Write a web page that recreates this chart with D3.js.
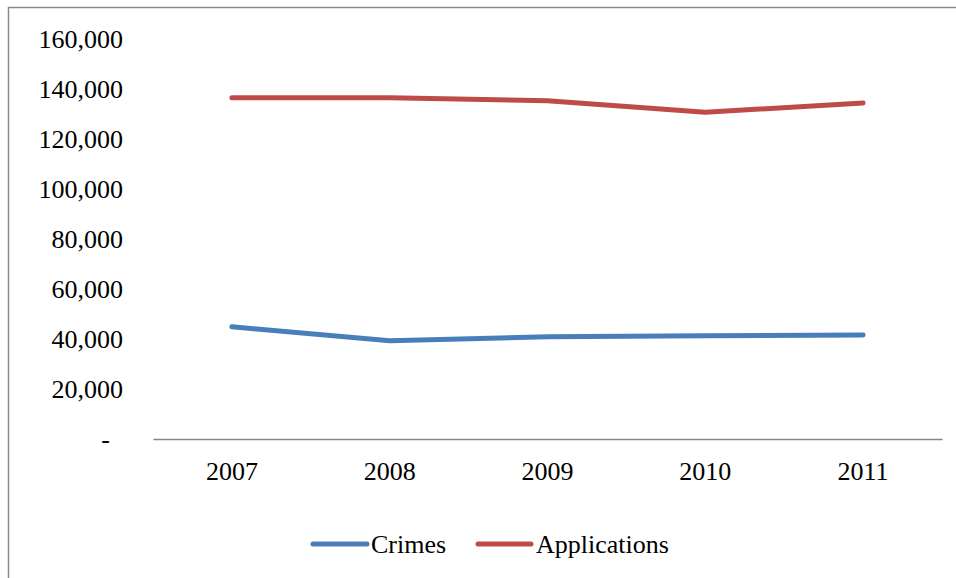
<!DOCTYPE html>
<html><head><meta charset="utf-8">
<script src="https://cdn.jsdelivr.net/npm/d3@7"></script>
<style>body{margin:0;background:#fff}svg{display:block}svg text{font-family:"Times New Roman","Liberation Serif",Tinos,"DejaVu Serif",serif !important;fill:#000}</style>
</head><body>
<script>
const years = ["2007","2008","2009","2010","2011"];
const crimes = [44900, 39300, 40900, 41300, 41600];
const applications = [136500, 136500, 135300, 130700, 134400];
const yTicks = [0,20000,40000,60000,80000,100000,120000,140000,160000];
const seriesNames = ["Crimes","Applications"];
const seriesColors = ["#4a7ebb","#be4b48"];

const W=956,H=578;
const svg=d3.select("body").append("svg").attr("width",W).attr("height",H);
svg.append("rect").attr("x",8.5).attr("y",7.5).attr("width",W+10).attr("height",H+10)
  .attr("fill","none").attr("stroke","#8a8a8a").attr("stroke-width",1.5);

const x=d3.scaleBand().domain(years).range([153,942]);
const y=d3.scaleLinear().domain([0,160000]).range([439,39]);

const fmt=d3.format(",");
const yAx=svg.append("g").attr("transform","translate(123,0)")
  .call(d3.axisLeft(y).tickValues(yTicks).tickSize(0).tickPadding(0).tickFormat(d=>d===0?"-":fmt(d)));
yAx.attr("font-family",null);
yAx.select(".domain").remove();
yAx.selectAll("text").style("font-size","26px").attr("fill","#000").attr("dy","0.32em");
yAx.selectAll(".tick").filter(d=>d===0).select("text").attr("x",-13);

const xAx=svg.append("g").attr("transform","translate(0,439)")
  .call(d3.axisBottom(x).tickSize(0).tickPadding(0));
xAx.attr("font-family",null);
xAx.select(".domain").attr("stroke","#868686").attr("stroke-width",1.5);
xAx.selectAll("text").style("font-size","26px").attr("fill","#000").attr("y",41).attr("dy",0);

const line=d3.line().x((d,i)=>x(years[i])+x.bandwidth()/2).y(d=>y(d));
[crimes,applications].forEach((s,k)=>{
  svg.append("path").datum(s).attr("d",line).attr("fill","none")
    .attr("stroke",seriesColors[k]).attr("stroke-width",5)
    .attr("stroke-linecap","round").attr("stroke-linejoin","round");
});

const lg=[{x1:313,x2:367,tx:371},{x1:478,x2:531,tx:536}];
seriesNames.forEach((n,k)=>{
  svg.append("line").attr("x1",lg[k].x1).attr("x2",lg[k].x2).attr("y1",544).attr("y2",544)
    .attr("stroke",seriesColors[k]).attr("stroke-width",5).attr("stroke-linecap","round");
  svg.append("text").attr("x",lg[k].tx).attr("y",553).style("font-size","26px").text(n);
});
</script>
</body></html>
